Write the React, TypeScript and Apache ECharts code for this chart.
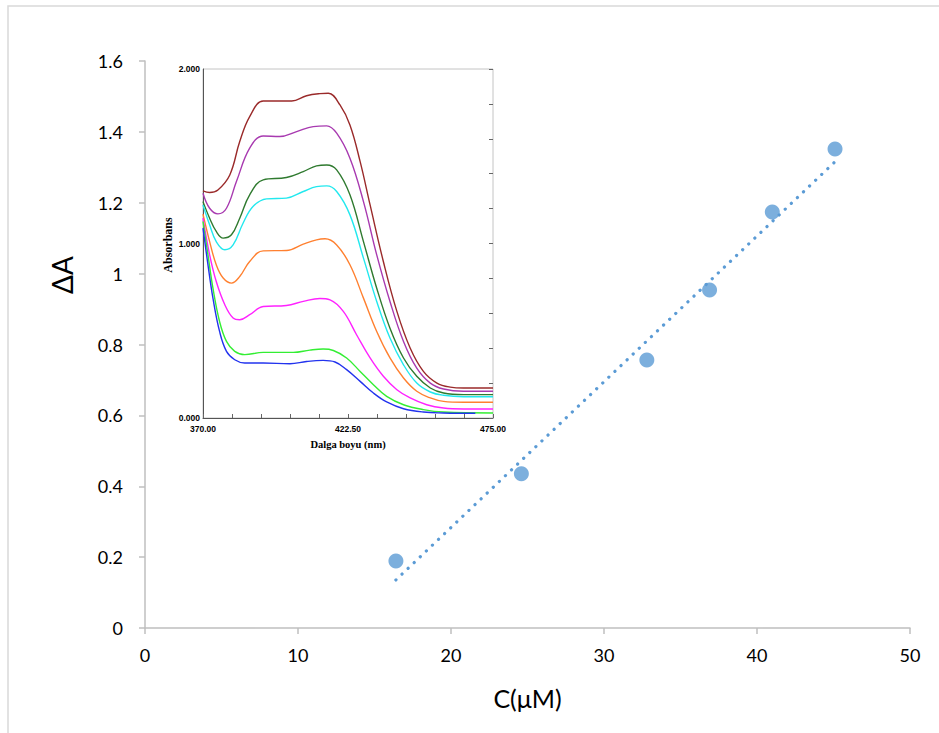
import React, { useEffect, useRef } from "react";
import * as echarts from "echarts";

// Main calibration data
const concentrations = [16.4, 24.6, 32.8, 36.9, 41.0, 45.1];
const deltaA = [0.189, 0.435, 0.756, 0.954, 1.174, 1.352];
const mainXTicks = [0, 10, 20, 30, 40, 50];
const mainYTicks = [0, 0.2, 0.4, 0.6, 0.8, 1, 1.2, 1.4, 1.6];

// Inset spectra [wavelength nm, absorbance]
const brownCurve = [[370,1.302],[372.4,1.292],[375.4,1.307],[379.7,1.393],[383.3,1.584],[386.9,1.727],[391.8,1.817],[396.6,1.817],[402.1,1.817],[407.5,1.847],[412.3,1.859],[415.4,1.861],[419.6,1.794],[423.2,1.679],[426.9,1.469],[430.5,1.221],[435.3,0.897],[440.2,0.611],[445.0,0.401],[449.8,0.267],[454.7,0.200],[459.5,0.177],[464.3,0.172],[475,0.172]];
const purpleCurve = [[370,1.288],[372.4,1.202],[375.4,1.170],[378.5,1.202],[382.1,1.355],[386.9,1.546],[391.8,1.616],[397.8,1.613],[403.9,1.641],[409.9,1.670],[414.8,1.674],[418.4,1.632],[423.2,1.489],[428.1,1.240],[432.9,0.935],[437.7,0.668],[442.6,0.439],[447.4,0.286],[452.3,0.200],[457.1,0.166],[464.3,0.153],[475,0.153]];
const darkGreenCurve = [[370,1.240],[372.4,1.145],[374.8,1.069],[377.3,1.031],[380.3,1.050],[383.3,1.145],[386.9,1.279],[391.8,1.365],[400.2,1.378],[406.3,1.412],[411.1,1.445],[414.8,1.450],[418.4,1.422],[423.2,1.279],[428.1,1.011],[432.9,0.744],[437.7,0.515],[442.6,0.344],[447.4,0.239],[452.3,0.172],[457.1,0.143],[464.3,0.134],[475,0.134]];
const cyanCurve = [[370,1.221],[372.4,1.107],[374.8,1.011],[377.9,0.964],[380.9,0.992],[384.5,1.116],[388.1,1.212],[393.0,1.256],[400.2,1.260],[406.3,1.298],[411.1,1.326],[414.8,1.330],[418.4,1.298],[423.2,1.164],[428.1,0.916],[432.9,0.668],[437.7,0.458],[442.6,0.305],[447.4,0.200],[452.3,0.149],[457.1,0.130],[464.3,0.122],[475,0.122]];
const orangeCurve = [[370,1.168],[372.4,1.011],[374.8,0.878],[377.3,0.802],[380.3,0.773],[383.3,0.811],[386.9,0.897],[391.8,0.958],[400.2,0.960],[406.3,0.996],[411.1,1.021],[414.2,1.027],[418.4,0.992],[423.2,0.878],[428.1,0.687],[432.9,0.496],[437.7,0.344],[442.6,0.229],[447.4,0.153],[452.3,0.115],[457.1,0.095],[464.3,0.090],[475,0.090]];
const magentaCurve = [[370,1.145],[372.4,0.935],[374.8,0.782],[377.9,0.649],[380.9,0.573],[383.3,0.563],[386.9,0.592],[391.8,0.639],[400.2,0.645],[406.3,0.668],[412.3,0.685],[416.0,0.677],[420.8,0.611],[425.6,0.477],[430.5,0.344],[435.3,0.239],[440.2,0.162],[445.0,0.115],[451.0,0.076],[457.1,0.057],[464.3,0.052],[475,0.052]];
const greenCurve = [[370,1.126],[371.8,0.935],[373.6,0.744],[376.0,0.553],[378.5,0.439],[381.5,0.382],[385.1,0.363],[391.8,0.376],[402.7,0.376],[408.7,0.389],[413.5,0.395],[417.2,0.387],[422.0,0.344],[426.9,0.267],[431.7,0.191],[436.5,0.124],[442.6,0.076],[449.8,0.048],[457.1,0.034],[475,0.029]];
const blueCurve = [[370,1.088],[371.8,0.878],[373.6,0.687],[376.0,0.496],[378.5,0.382],[381.5,0.334],[385.1,0.315],[391.8,0.315],[401.5,0.311],[407.5,0.324],[413.5,0.330],[417.8,0.321],[422.0,0.277],[426.9,0.210],[431.7,0.143],[436.5,0.092],[442.6,0.053],[449.8,0.034],[457.1,0.029],[468.6,0.027]];

const insetCurves = [
  { name: "c8", data: brownCurve, color: "#9a2a2a" },
  { name: "c7", data: purpleCurve, color: "#a83ab0" },
  { name: "c6", data: darkGreenCurve, color: "#2f7a2f" },
  { name: "c5", data: cyanCurve, color: "#22e8ee" },
  { name: "c4", data: orangeCurve, color: "#ff8030" },
  { name: "c3", data: magentaCurve, color: "#ff22ff" },
  { name: "c2", data: greenCurve, color: "#33ee33" },
  { name: "c1", data: blueCurve, color: "#2233ee" },
];

function linearFit(xs: number[], ys: number[]) {
  const n = xs.length;
  const mx = xs.reduce((a, b) => a + b, 0) / n;
  const my = ys.reduce((a, b) => a + b, 0) / n;
  let sxy = 0, sxx = 0;
  for (let i = 0; i < n; i++) {
    sxy += (xs[i] - mx) * (ys[i] - my);
    sxx += (xs[i] - mx) * (xs[i] - mx);
  }
  const slope = sxy / sxx;
  return { slope, intercept: my - slope * mx };
}

export default function App() {
  const ref = useRef<HTMLDivElement>(null);
  useEffect(() => {
    if (!ref.current) return;
    const chart = echarts.init(ref.current, undefined, { renderer: "svg" });
    const fit = linearFit(concentrations, deltaA);
    const x0 = Math.min(...concentrations);
    const x1 = Math.max(...concentrations);
    const trend = [
      [x0, fit.intercept + fit.slope * x0],
      [x1, fit.intercept + fit.slope * x1],
    ];
    const mainFont = "Lato, 'Noto Sans', sans-serif";
    const serif = "'Liberation Serif', 'DejaVu Serif', serif";
    const insetFont = "'Liberation Sans', Arial, sans-serif";
    chart.setOption({
      animation: false,
      backgroundColor: "#ffffff",
      grid: [
        { left: 145, top: 61, right: 29, bottom: 105, containLabel: false },
        {
          left: 203, top: 69, width: 290, height: 349,
          show: true, backgroundColor: "#ffffff", borderColor: "#c4c4c4", borderWidth: 1, z: 5,
        },
      ],
      xAxis: [
        {
          gridIndex: 0, type: "value", min: mainXTicks[0], max: mainXTicks[mainXTicks.length - 1], interval: 10,
          splitLine: { show: false },
          axisLine: { show: true, lineStyle: { color: "#bfbfbf", width: 1.5 } },
          axisTick: { show: true, length: 6, lineStyle: { color: "#bfbfbf", width: 1.5 } },
          axisLabel: { color: "#000", fontSize: 18, fontFamily: mainFont, margin: 18 },
          name: "C(μM)", nameLocation: "middle", nameGap: 57,
          nameTextStyle: { color: "#000", fontSize: 25, fontFamily: mainFont },
        },
        {
          gridIndex: 1, type: "value", min: 370, max: 475, interval: 10.5,
          splitLine: { show: false },
          axisLine: { show: true, onZero: false, lineStyle: { color: "#555", width: 1 } },
          axisTick: { show: true, inside: true, length: 4, lineStyle: { color: "#666", width: 1 } },
          axisLabel: {
            color: "#000", fontSize: 8.5, fontWeight: "bold", fontFamily: insetFont, margin: 6,
            showMinLabel: true, showMaxLabel: true,
            formatter: (v: number) => (Math.round((v - 370) / 10.5) % 5 === 0 ? v.toFixed(2) : ""),
          },
          name: "Dalga boyu (nm)", nameLocation: "middle", nameGap: 21,
          nameTextStyle: { color: "#000", fontSize: 10.5, fontWeight: "bold", fontFamily: serif },
          z: 6,
        },
      ],
      yAxis: [
        {
          gridIndex: 0, type: "value", min: mainYTicks[0], max: mainYTicks[mainYTicks.length - 1], interval: 0.2,
          splitLine: { show: false },
          axisLine: { show: true, lineStyle: { color: "#bfbfbf", width: 1.5 } },
          axisTick: { show: true, length: 6, lineStyle: { color: "#bfbfbf", width: 1.5 } },
          axisLabel: { color: "#000", fontSize: 18, fontFamily: mainFont, margin: 22 },
        },
        {
          gridIndex: 1, type: "value", min: 0, max: 2, interval: 0.2,
          splitLine: { show: false },
          axisLine: { show: true, onZero: false, lineStyle: { color: "#555", width: 1 } },
          axisTick: { show: false },
          axisLabel: {
            color: "#000", fontSize: 8.5, fontWeight: "bold", fontFamily: insetFont, margin: 3,
            formatter: (v: number) => (Math.round(v / 0.2) % 5 === 0 ? v.toFixed(3) : ""),
          },
          z: 6,
        },
        {
          gridIndex: 1, type: "value", min: 0, max: 2, interval: 0.2, position: "right",
          splitLine: { show: false },
          axisLine: { show: false },
          axisTick: { show: true, inside: true, length: 4, lineStyle: { color: "#666", width: 1 } },
          axisLabel: { show: false },
          z: 6,
        },
      ],
      series: [
        {
          type: "line", xAxisIndex: 0, yAxisIndex: 0, data: trend, showSymbol: false, symbol: "none",
          lineStyle: { color: "#5b9bd5", width: 3.2, type: [0.1, 8.3], cap: "round" }, z: 2,
        },
        {
          type: "scatter", xAxisIndex: 0, yAxisIndex: 0,
          data: concentrations.map((c, i) => [c, deltaA[i]]),
          symbol: "circle", symbolSize: 15, itemStyle: { color: "#5b9bd5" }, z: 3,
        },
        ...insetCurves.map((c) => ({
          type: "line", name: c.name, xAxisIndex: 1, yAxisIndex: 1, data: c.data,
          showSymbol: false, symbol: "none", smooth: 0.4,
          lineStyle: { color: c.color, width: 1.4 }, z: 7,
        })),
      ],
      graphic: [
        {
          type: "rect", silent: true, z: -10,
          shape: { x: 8, y: 6, width: 1200, height: 1200 },
          style: { fill: "none", stroke: "#d9d9d9", lineWidth: 1.5 },
        },
        {
          type: "text", x: 62, y: 275, rotation: Math.PI / 2,
          style: { text: "ΔA", fontSize: 28, fontFamily: mainFont, fill: "#000", align: "center", verticalAlign: "middle" },
        },
        {
          type: "text", x: 168, y: 245, rotation: Math.PI / 2, z: 10,
          style: { text: "Absorbans", fontSize: 12, fontWeight: "bold", fontFamily: serif, fill: "#000", align: "center", verticalAlign: "middle" },
        },
      ],
    });
    return () => chart.dispose();
  }, []);
  return (
    <div
      ref={ref}
      style={{ position: "absolute", left: 0, top: 0, width: 939, height: 733, background: "#fff" }}
    />
  );
}
